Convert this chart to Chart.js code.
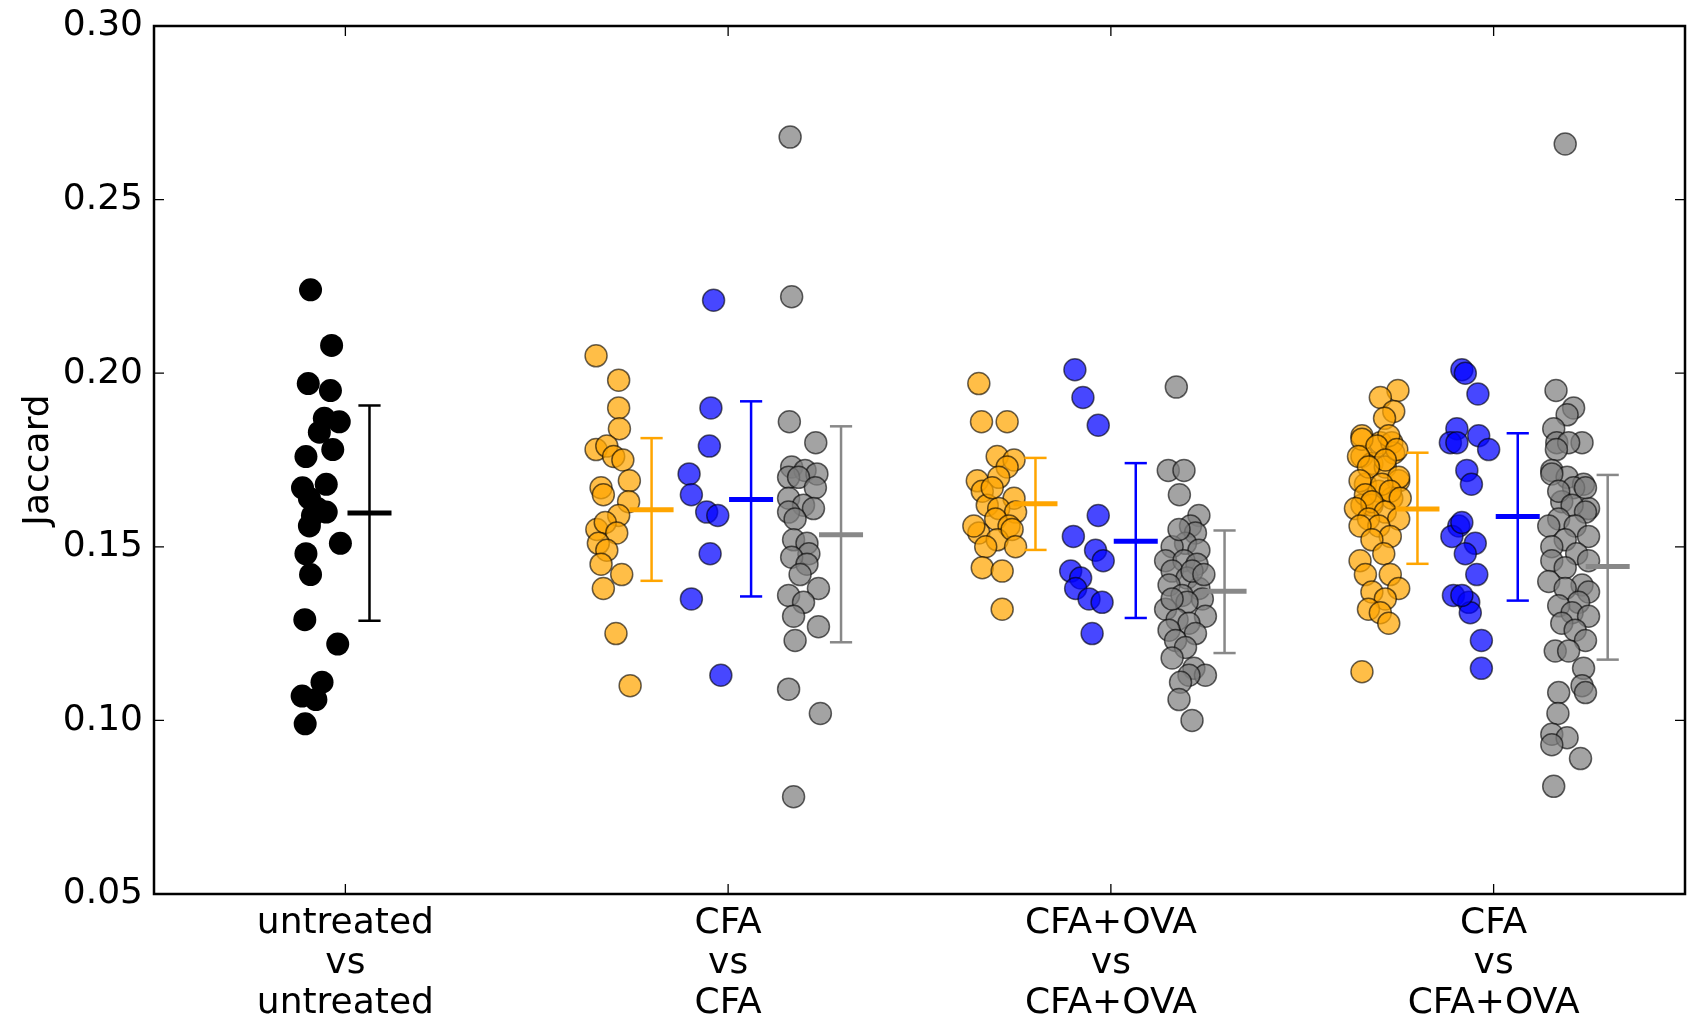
<!DOCTYPE html>
<html>
<head>
<meta charset="utf-8">
<script src="https://cdn.jsdelivr.net/npm/chart.js@4/dist/chart.umd.min.js"></script>
<style>
    html, body { margin: 0; padding: 0; background: #fff; overflow: hidden; }
    canvas { display: block; }
</style>
</head>
<body>
<canvas id="jaccard" width="1690" height="1027"></canvas>
<script>
// category labels (one per comparison)
const categoryLabels = [
    ['untreated', 'vs', 'untreated'],
    ['CFA', 'vs', 'CFA'],
    ['CFA+OVA', 'vs', 'CFA+OVA'],
    ['CFA', 'vs', 'CFA+OVA'],
];
const yTicks = [0.05, 0.10, 0.15, 0.20, 0.25, 0.30];

// untreated vs untreated
const untreatedVals = [0.224, 0.208, 0.197, 0.195, 0.187, 0.186, 0.183, 0.178, 0.176, 0.167, 0.168, 0.164, 0.160,
    0.159, 0.156, 0.148, 0.151, 0.142, 0.129, 0.122, 0.111, 0.107, 0.106, 0.099, 0.161];
const untreatedJitter = [-0.091, -0.036, -0.097, -0.039, -0.055, -0.016, -0.068, -0.033, -0.103, -0.112, -0.050, -0.094, -0.050,
    -0.086, -0.094, -0.103, -0.013, -0.091, -0.106, -0.020, -0.061, -0.113, -0.077, -0.105, -0.073];

// CFA vs CFA
const cfaOrangeVals = [0.205, 0.198, 0.190, 0.184, 0.178, 0.179, 0.176, 0.175, 0.169, 0.167, 0.165, 0.163, 0.159,
    0.155, 0.157, 0.154, 0.151, 0.149, 0.145, 0.142, 0.138, 0.125, 0.110];
const cfaOrangeJitter = [-0.345, -0.286, -0.286, -0.284, -0.345, -0.317, -0.299, -0.275, -0.258, -0.332, -0.326, -0.260, -0.286,
    -0.343, -0.321, -0.291, -0.339, -0.317, -0.332, -0.278, -0.326, -0.293, -0.256];
const cfaBlueVals = [0.221, 0.190, 0.179, 0.171, 0.165, 0.160, 0.159, 0.148, 0.135, 0.113];
const cfaBlueJitter = [-0.038, -0.045, -0.049, -0.102, -0.096, -0.056, -0.027, -0.047, -0.096, -0.019];
const cfaGrayVals = [0.268, 0.222, 0.186, 0.180, 0.173, 0.172, 0.171, 0.170, 0.170, 0.167, 0.164, 0.162, 0.161, 0.160,
    0.158, 0.152, 0.151, 0.148, 0.147, 0.145, 0.142, 0.138, 0.136, 0.134, 0.130, 0.127, 0.123, 0.109, 0.102, 0.078];
const cfaGrayJitter = [0.162, 0.166, 0.160, 0.229, 0.166, 0.201, 0.232, 0.158, 0.184, 0.228, 0.158, 0.197, 0.223, 0.158,
    0.175, 0.171, 0.206, 0.211, 0.166, 0.206, 0.188, 0.236, 0.158, 0.197, 0.171, 0.236, 0.175, 0.158, 0.241, 0.171];

// CFA+OVA vs CFA+OVA
const ovaOrangeVals = [0.197, 0.186, 0.186, 0.176, 0.175, 0.173, 0.169, 0.170, 0.166, 0.164, 0.162, 0.161, 0.160,
    0.158, 0.156, 0.154, 0.152, 0.155, 0.150, 0.150, 0.144, 0.143, 0.132, 0.156, 0.167];
const ovaOrangeJitter = [-0.345, -0.338, -0.271, -0.297, -0.253, -0.271, -0.349, -0.293, -0.336, -0.253, -0.323, -0.293, -0.249,
    -0.301, -0.266, -0.345, -0.297, -0.258, -0.327, -0.249, -0.336, -0.284, -0.284, -0.358, -0.310];
const ovaBlueVals = [0.201, 0.193, 0.185, 0.159, 0.153, 0.149, 0.146, 0.143, 0.141, 0.138, 0.135, 0.134, 0.125];
const ovaBlueJitter = [-0.094, -0.073, -0.033, -0.033, -0.098, -0.040, -0.020, -0.105, -0.079, -0.092, -0.057, -0.023, -0.049];
const ovaGrayVals = [0.196, 0.172, 0.172, 0.165, 0.159, 0.156, 0.154, 0.151, 0.150, 0.149, 0.146, 0.146, 0.145, 0.143,
    0.141, 0.139, 0.138, 0.136, 0.135, 0.134, 0.132, 0.130, 0.129, 0.128, 0.126, 0.125, 0.123, 0.121, 0.118, 0.115,
    0.113, 0.113, 0.111, 0.106, 0.100, 0.155, 0.143, 0.135, 0.142];
const ovaGrayJitter = [0.171, 0.150, 0.191, 0.179, 0.230, 0.208, 0.221, 0.195, 0.160, 0.230, 0.143, 0.191, 0.225, 0.160,
    0.199, 0.152, 0.230, 0.186, 0.239, 0.199, 0.143, 0.247, 0.173, 0.204, 0.152, 0.221, 0.169, 0.195, 0.160, 0.217,
    0.247, 0.204, 0.182, 0.178, 0.212, 0.178, 0.212, 0.160, 0.243];

// CFA vs CFA+OVA
const mixOrangeVals = [0.195, 0.193, 0.189, 0.187, 0.182, 0.180, 0.180, 0.177, 0.176, 0.174, 0.173, 0.169, 0.168, 0.166,
    0.164, 0.162, 0.162, 0.181, 0.182, 0.179, 0.178, 0.176, 0.175, 0.173, 0.170, 0.169, 0.168, 0.166, 0.165, 0.164,
    0.163, 0.161, 0.160, 0.158, 0.158, 0.156, 0.156, 0.153, 0.152, 0.148, 0.146, 0.142, 0.142, 0.138, 0.137, 0.135,
    0.132, 0.131, 0.128, 0.114];
const mixOrangeJitter = [-0.250, -0.296, -0.261, -0.285, -0.344, -0.296, -0.266, -0.261, -0.344, -0.318, -0.283, -0.248, -0.335, -0.300,
    -0.266, -0.344, -0.318, -0.344, -0.274, -0.305, -0.253, -0.353, -0.283, -0.327, -0.248, -0.349, -0.292, -0.270, -0.335, -0.244,
    -0.318, -0.361, -0.283, -0.248, -0.327, -0.300, -0.349, -0.270, -0.318, -0.287, -0.349, -0.335, -0.270, -0.248, -0.318, -0.283,
    -0.327, -0.296, -0.274, -0.344];
const mixBlueVals = [0.201, 0.200, 0.194, 0.184, 0.182, 0.180, 0.180, 0.178, 0.172, 0.168, 0.156, 0.153, 0.151, 0.148,
    0.142, 0.136, 0.134, 0.131, 0.123, 0.115, 0.157, 0.136];
const mixBlueJitter = [-0.083, -0.074, -0.041, -0.096, -0.039, -0.113, -0.096, -0.013, -0.070, -0.058, -0.091, -0.109, -0.048, -0.074,
    -0.044, -0.105, -0.065, -0.061, -0.032, -0.032, -0.083, -0.083];
const mixGrayVals = [0.266, 0.195, 0.190, 0.188, 0.184, 0.180, 0.180, 0.180, 0.178, 0.172, 0.170, 0.168, 0.167, 0.163,
    0.161, 0.171, 0.167, 0.166, 0.162, 0.160, 0.158, 0.156, 0.156, 0.153, 0.152, 0.150, 0.148, 0.146, 0.146, 0.144,
    0.140, 0.139, 0.138, 0.137, 0.134, 0.133, 0.131, 0.130, 0.128, 0.126, 0.123, 0.120, 0.120, 0.115, 0.110, 0.108,
    0.108, 0.102, 0.096, 0.095, 0.093, 0.089, 0.081];
const mixGrayJitter = [0.187, 0.163, 0.209, 0.192, 0.157, 0.231, 0.165, 0.196, 0.164, 0.152, 0.192, 0.235, 0.209, 0.178,
    0.248, 0.152, 0.240, 0.170, 0.205, 0.240, 0.170, 0.144, 0.213, 0.248, 0.187, 0.152, 0.217, 0.248, 0.152, 0.187,
    0.144, 0.231, 0.187, 0.248, 0.222, 0.170, 0.205, 0.248, 0.178, 0.213, 0.240, 0.161, 0.196, 0.235, 0.231, 0.240,
    0.170, 0.168, 0.152, 0.192, 0.152, 0.227, 0.157];

// mean and spread bars, one per series
const barGroup = [0, 1, 1, 1, 2, 2, 2, 3, 3, 3];
const barSlot = [0.063, -0.200, 0.060, 0.295, -0.197, 0.065, 0.297, -0.199, 0.063, 0.298];
const barMean = [0.1597, 0.1607, 0.1636, 0.1535, 0.1624, 0.1516, 0.1372, 0.1609, 0.1587, 0.1443];
const barLow = [0.1287, 0.1402, 0.1357, 0.1225, 0.1491, 0.1295, 0.1194, 0.1451, 0.1345, 0.1175];
const barHigh = [0.1907, 0.1813, 0.1919, 0.1847, 0.1756, 0.1741, 0.1547, 0.1771, 0.1827, 0.1707];
const barKind = ['black', 'orange', 'blue', 'gray', 'orange', 'blue', 'gray', 'orange', 'blue', 'gray'];

const FONT = 'DejaVu Sans';
const fills = {
    black: '#000000',
    orange: 'rgba(255,165,0,0.72)',
    blue: 'rgba(0,0,255,0.72)',
    gray: 'rgba(128,128,128,0.72)',
};
const barColors = { black: '#000000', orange: '#FFA500', blue: '#0000FF', gray: '#888888' };

const series = [
    { group: 0, vals: untreatedVals, jitter: untreatedJitter, kind: 'black' },
    { group: 1, vals: cfaOrangeVals, jitter: cfaOrangeJitter, kind: 'orange' },
    { group: 1, vals: cfaBlueVals, jitter: cfaBlueJitter, kind: 'blue' },
    { group: 1, vals: cfaGrayVals, jitter: cfaGrayJitter, kind: 'gray' },
    { group: 2, vals: ovaOrangeVals, jitter: ovaOrangeJitter, kind: 'orange' },
    { group: 2, vals: ovaBlueVals, jitter: ovaBlueJitter, kind: 'blue' },
    { group: 2, vals: ovaGrayVals, jitter: ovaGrayJitter, kind: 'gray' },
    { group: 3, vals: mixOrangeVals, jitter: mixOrangeJitter, kind: 'orange' },
    { group: 3, vals: mixBlueVals, jitter: mixBlueJitter, kind: 'blue' },
    { group: 3, vals: mixGrayVals, jitter: mixGrayJitter, kind: 'gray' },
];

const datasets = [];

// scatter points
series.forEach((s) => {
    const black = s.kind === 'black';
    datasets.push({
        data: s.vals.map((v, i) => ({ x: s.group + s.jitter[i], y: v })),
        pointRadius: black ? 11.5 : 11,
        pointBackgroundColor: fills[s.kind],
        pointBorderColor: black ? '#000000' : 'rgba(0,0,0,0.6)',
        pointBorderWidth: black ? 0 : 1.5,
        showLine: false,
        order: 2,
    });
});

// error bars: vertical line, two caps, thick mean line
function segment(x0, x1, y0, y1, color, width) {
    return {
        data: [{ x: x0, y: y0 }, { x: x1, y: y1 }],
        showLine: true,
        pointRadius: 0,
        borderColor: color,
        borderWidth: width,
        borderCapStyle: 'butt',
        order: 1,
    };
}
barMean.forEach((m, i) => {
    const xc = barGroup[i] + barSlot[i];
    const c = barColors[barKind[i]];
    datasets.push(segment(xc, xc, barLow[i], barHigh[i], c, 2.5));
    datasets.push(segment(xc - 0.029, xc + 0.029, barLow[i], barLow[i], c, 2.5));
    datasets.push(segment(xc - 0.029, xc + 0.029, barHigh[i], barHigh[i], c, 2.5));
    datasets.push(segment(xc - 0.0575, xc + 0.0575, m, m, c, 5));
});

// matplotlib-style frame with inward ticks
const framePlugin = {
    id: 'frame',
    afterDatasetsDraw(chart) {
        const { ctx, chartArea: a, scales } = chart;
        ctx.save();
        ctx.strokeStyle = '#000';
        ctx.lineWidth = 1.3;
        ctx.beginPath();
        yTicks.forEach((t) => {
            const y = scales.y.getPixelForValue(t);
            ctx.moveTo(a.left, y); ctx.lineTo(a.left + 10, y);
            ctx.moveTo(a.right, y); ctx.lineTo(a.right - 10, y);
        });
        categoryLabels.forEach((_, i) => {
            const x = scales.x.getPixelForValue(i);
            ctx.moveTo(x, a.bottom); ctx.lineTo(x, a.bottom - 10);
            ctx.moveTo(x, a.top); ctx.lineTo(x, a.top + 10);
        });
        ctx.stroke();
        ctx.lineWidth = 2.5;
        ctx.strokeRect(a.left, a.top, a.right - a.left, a.bottom - a.top);
        ctx.restore();
    },
};

new Chart(document.getElementById('jaccard'), {
    type: 'scatter',
    data: { datasets },
    options: {
        responsive: false,
        animation: false,
        events: [],
        layout: { autoPadding: false, padding: { top: 26, right: 5, bottom: 0, left: 0 } },
        plugins: {
            legend: { display: false },
            tooltip: { enabled: false },
        },
        scales: {
            x: {
                type: 'linear',
                min: -0.5,
                max: 3.5,
                grid: { display: false, drawTicks: false },
                border: { display: false },
                afterBuildTicks: (scale) => {
                    scale.ticks = categoryLabels.map((_, i) => ({ value: i }));
                },
                afterFit: (scale) => {
                    scale.height = 133;
                    scale.paddingLeft = 0;
                    scale.paddingRight = 0;
                },
                ticks: {
                    padding: 9,
                    maxRotation: 0,
                    autoSkip: false,
                    color: '#000',
                    font: { family: FONT, size: 36, lineHeight: 1.12 },
                    callback: (v) => categoryLabels[v],
                },
            },
            y: {
                min: 0.05,
                max: 0.30,
                grid: { display: false, drawTicks: false },
                border: { display: false },
                afterBuildTicks: (scale) => {
                    scale.ticks = yTicks.map((v) => ({ value: v }));
                },
                afterFit: (scale) => {
                    scale.width = 154;
                    scale.paddingTop = 0;
                    scale.paddingBottom = 0;
                },
                ticks: {
                    padding: 11,
                    color: '#000',
                    font: { family: FONT, size: 36 },
                    callback: (v) => Number(v).toFixed(2),
                },
                title: {
                    display: true,
                    text: 'Jaccard',
                    color: '#000',
                    font: { family: FONT, size: 36 },
                    padding: { top: 17, bottom: 0 },
                },
            },
        },
    },
    plugins: [framePlugin],
});
</script>
</body>
</html>
